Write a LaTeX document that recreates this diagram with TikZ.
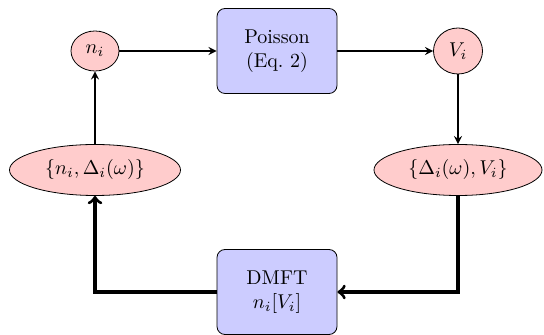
\documentclass[tikz,border=0pt]{standalone}
\usetikzlibrary{shapes.geometric,arrows}
\begin{document}
\begin{tikzpicture}[x=1pt, y=1pt]
    \tikzstyle{var}=[draw, ellipse, fill=red!20, inner sep=1pt]
    \tikzstyle{solver}=[draw, rectangle, rounded corners=4pt, fill=blue!20,
      minimum width=60pt, minimum height=42.5pt, align=center]
    \useasboundingbox (-47.5,25.5) rectangle (224.5,-142);
    \node[var, minimum width=24pt, minimum height=20pt] (ni) at (0,0) {$n_i$};
    \node[solver] (poisson) at (91,0) {Poisson\\(Eq.~2)};
    \node[var, minimum width=24.5pt, minimum height=23pt] (Vi) at (181.5,0) {$V_i$};
    \node[var, minimum width=85.5pt, minimum height=25.5pt] (nDelta) at (0,-59.5) {$\{n_i,\Delta_i(\omega)\}$};
    \node[var, minimum width=84pt, minimum height=25.5pt] (DeltaV) at (181.5,-59.5) {$\{\Delta_i(\omega),V_i\}$};
    \node[solver] (dmft) at (91,-120.5) {DMFT\\$n_i[V_i]$};
    \draw[thick, -stealth] (ni) -- (poisson);
    \draw[thick, -stealth] (poisson) -- (Vi);
    \draw[thick, -stealth] (Vi) -- (DeltaV);
    \draw[thick, -stealth] (nDelta) -- (ni);
    \draw[ultra thick, ->] (DeltaV) |- (dmft);
    \draw[ultra thick, ->] (dmft) -| (nDelta);
  \end{tikzpicture}
\end{document}
